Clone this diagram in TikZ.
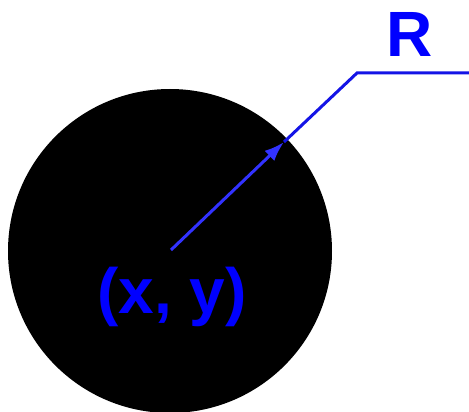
\documentclass[tikz,border=0pt]{standalone}
\usepackage{fontspec}
\setmainfont{Liberation Sans}
\usetikzlibrary{arrows.meta}
\definecolor{lblue}{RGB}{0,0,255}
\definecolor{ablue}{RGB}{50,50,255}
\definecolor{oblue}{RGB}{20,20,230}
\tikzset{
  lbl/.style={text=lblue, font=\fontsize{64}{64}\selectfont\bfseries, inner sep=0pt, anchor=base},
  radius line/.style={draw=ablue, line width=3pt, -{Latex[length=20pt,width=14pt]}},
  leader/.style={draw=oblue, line width=3pt, line join=miter}
}
\begin{document}
\begin{tikzpicture}[x=1pt,y=-1pt]
\useasboundingbox (0,0) rectangle (469,412);
\node[circle, fill=black, minimum size=324pt, inner sep=0pt] (disk) at (170,251) {};
\coordinate (c) at (171,250);
\coordinate (tip) at (284,142);
\coordinate (bend) at (357,73);
\coordinate (end) at (470,73);
\draw[leader] (tip) -- (bend) -- (end);
\draw[radius line] (c) -- (tip);
\node[lbl] (R) at (410,57) {R};
\node[lbl] (xy) at (172,313) {(x, y)};
\end{tikzpicture}
\end{document}
